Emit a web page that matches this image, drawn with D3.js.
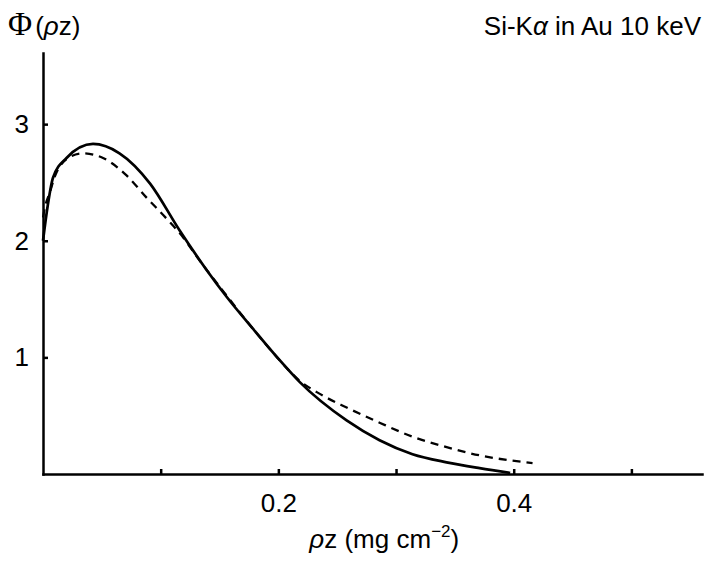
<!DOCTYPE html>
<html>
<head>
<meta charset="utf-8">
<script src="https://cdn.jsdelivr.net/npm/d3@7"></script>
<style>
  html, body { margin: 0; padding: 0; background: #fff; }
  svg { display: block; font-family: 'Liberation Sans', Arial, sans-serif; }
  .axis path, .axis line { stroke: #000; stroke-width: 2.5; }
  .axis text { font-size: 26px; fill: #000; font-family: 'Liberation Sans', Arial, sans-serif; }
</style>
</head>
<body>
<div id="chart"></div>
<script>
// phi(rho z) depth distribution
const solidRhoZ = [0, 0.004, 0.0085, 0.02, 0.0425, 0.065, 0.091, 0.116, 0.139, 0.156, 0.178, 0.199, 0.218, 0.258, 0.286, 0.314, 0.343, 0.371, 0.397];
const solidPhi  = [2.0, 2.3, 2.54, 2.71, 2.83, 2.75, 2.49, 2.09, 1.75, 1.52, 1.25, 1.0, 0.79, 0.46, 0.29, 0.17, 0.10, 0.05, 0.01];

const dashedRhoZ = [0, 0.0017, 0.006, 0.010, 0.023, 0.034, 0.051, 0.071, 0.088, 0.105, 0.119, 0.131, 0.156, 0.178, 0.199, 0.218, 0.233, 0.258, 0.286, 0.314, 0.343, 0.371, 0.416];
const dashedPhi  = [2.2, 2.29, 2.42, 2.55, 2.72, 2.75, 2.71, 2.56, 2.37, 2.19, 2.03, 1.86, 1.53, 1.25, 1.0, 0.80, 0.70, 0.57, 0.44, 0.32, 0.23, 0.16, 0.094];

const xTicks = [0.1, 0.2, 0.3, 0.4, 0.5];
const xTickLabels = ['', '0.2', '', '0.4', ''];
const yTicks = [1, 2, 3];

const margins = { top: 53, right: 22, bottom: 88, left: 43 };
const canvasWidth = 724;
const canvasHeight = 562;
const width = canvasWidth - margins.left - margins.right;
const height = canvasHeight - margins.top - margins.bottom;

const svg = d3.select('#chart')
  .append('svg')
    .attr('width', canvasWidth)
    .attr('height', canvasHeight);

const plot = svg.append('g')
  .attr('transform', `translate(${margins.left}, ${margins.top})`);

const scaleX = d3.scaleLinear().domain([0, 0.56]).range([0, width]);
const scaleY = d3.scaleLinear().domain([0, 3.61]).range([height, 0]);

// axes, ticks point inward
plot.append('g')
  .attr('class', 'axis axis--x')
  .attr('transform', `translate(0, ${height})`)
  .call(d3.axisBottom(scaleX)
    .tickValues(xTicks)
    .tickSizeInner(-5)
    .tickSizeOuter(0)
    .tickPadding(20)
    .tickFormat((d, i) => xTickLabels[i]));

plot.append('g')
  .attr('class', 'axis axis--y')
  .call(d3.axisLeft(scaleY)
    .tickValues(yTicks)
    .tickSizeInner(-5)
    .tickSizeOuter(0)
    .tickPadding(14)
    .tickFormat(d3.format('d')));

plot.selectAll('.axis .domain').attr('stroke-linecap', 'square');

// curves
const line = d3.line()
  .x(d => scaleX(d[0]))
  .y(d => scaleY(d[1]))
  .curve(d3.curveMonotoneX);

plot.append('path')
  .datum(d3.zip(solidRhoZ, solidPhi))
  .attr('fill', 'none')
  .attr('stroke', '#000')
  .attr('stroke-width', 2.7)
  .attr('d', line);

plot.append('path')
  .datum(d3.zip(dashedRhoZ, dashedPhi))
  .attr('fill', 'none')
  .attr('stroke', '#000')
  .attr('stroke-width', 2.3)
  .attr('stroke-dasharray', '8,6')
  .attr('d', line);

// labels
const yTitle = svg.append('text')
  .attr('x', 8)
  .attr('y', 35)
  .style('font-size', '26px');
yTitle.append('tspan')
  .style('font-family', "'Liberation Serif', serif")
  .style('font-size', '33px')
  .text('Φ');
yTitle.append('tspan').attr('dx', 3).text('(');
yTitle.append('tspan').style('font-style', 'italic').text('ρ');
yTitle.append('tspan').text('z)');

const title = svg.append('text')
  .attr('x', 701)
  .attr('y', 35)
  .attr('text-anchor', 'end')
  .style('font-size', '26px');
title.append('tspan').text('Si-K');
title.append('tspan').style('font-style', 'italic').text('α');
title.append('tspan').text(' in Au 10 keV');

const xTitle = svg.append('text')
  .attr('x', margins.left + scaleX(0.29))
  .attr('y', 548)
  .attr('text-anchor', 'middle')
  .style('font-size', '26px');
xTitle.append('tspan').style('font-style', 'italic').text('ρ');
xTitle.append('tspan').text('z (mg cm');
xTitle.append('tspan').attr('dy', -11).style('font-size', '17px').text('−2');
xTitle.append('tspan').attr('dy', 11).text(')');
</script>
</body>
</html>
